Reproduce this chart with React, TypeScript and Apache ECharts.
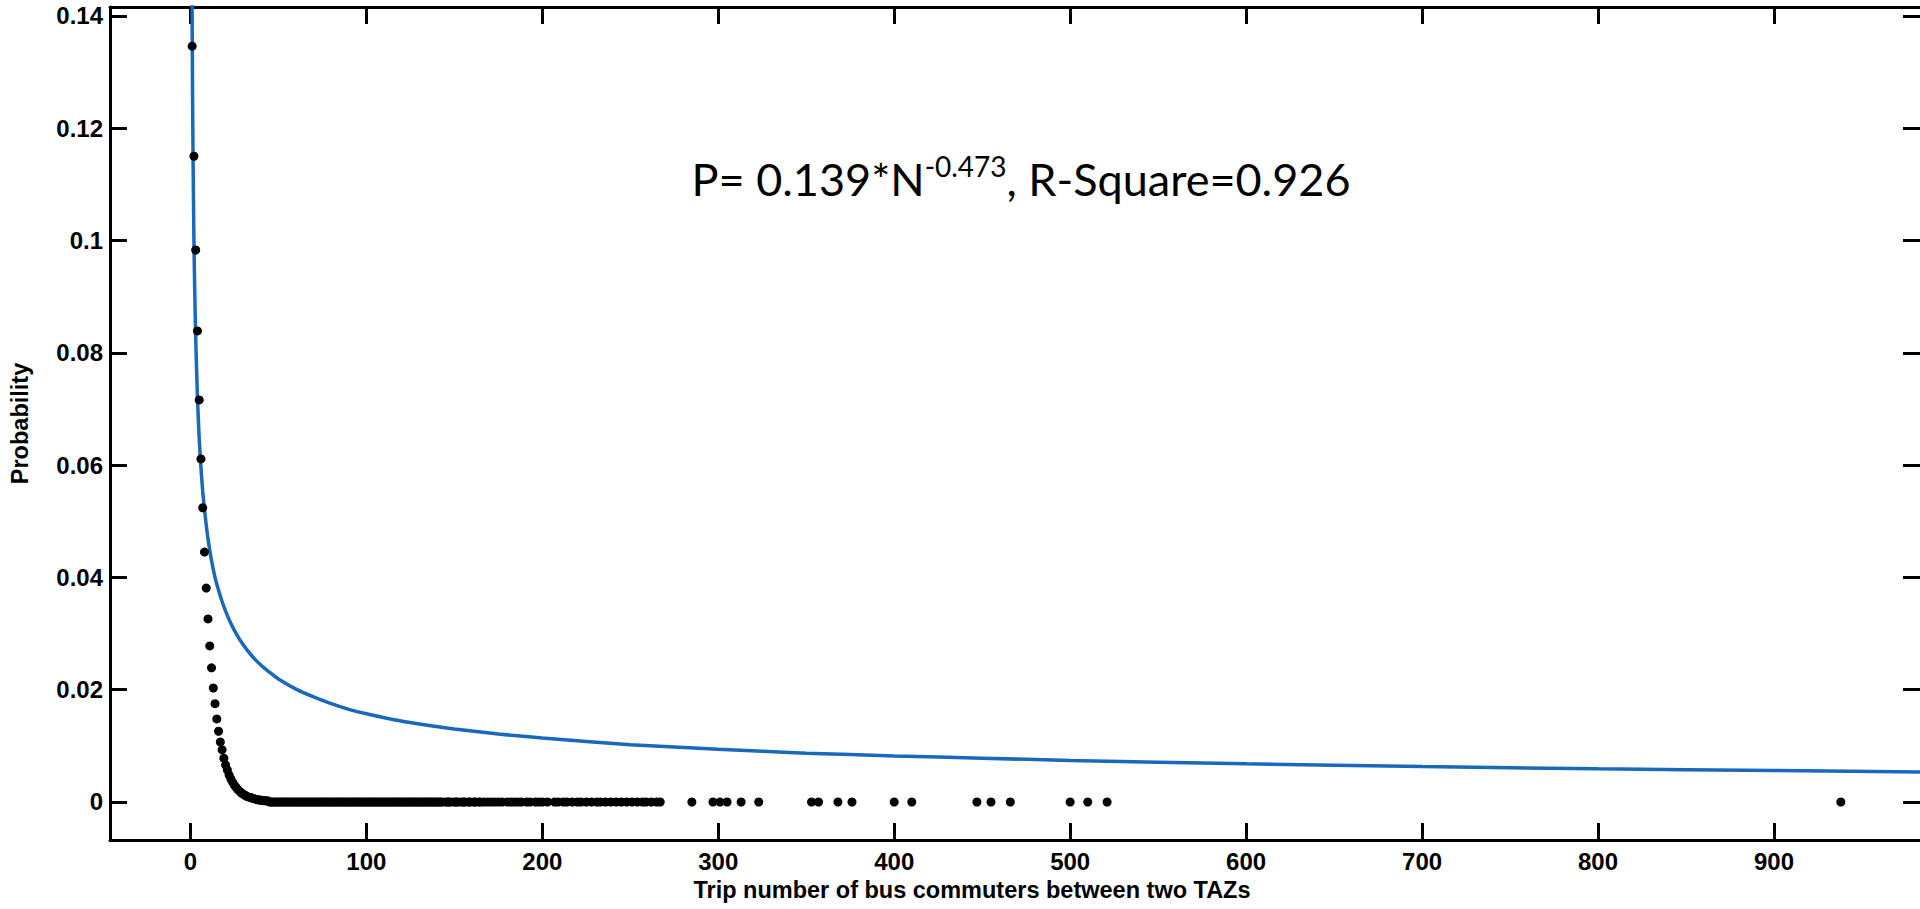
import React, { useEffect, useRef } from "react";
import * as echarts from "echarts";

// ---- Data ----
const xTicks = [0, 100, 200, 300, 400, 500, 600, 700, 800, 900];
const xTickLabels = ["0", "100", "200", "300", "400", "500", "600", "700", "800", "900"];
const yTicks = [0, 0.02, 0.04, 0.06, 0.08, 0.1, 0.12, 0.14];
const yTickLabels = ["0", "0.02", "0.04", "0.06", "0.08", "0.1", "0.12", "0.14"];

// observed probabilities for small trip numbers
const headTrips = [1, 2, 3, 4, 5, 6, 7, 8, 9, 10, 11, 12, 13, 14, 15, 16, 17, 18, 19, 20, 21, 22, 23, 24, 25, 26, 27, 28, 29, 30, 31, 32, 33, 34, 35, 36, 37, 38, 39, 40, 41, 42, 43, 44];
const headProb = [0.1346, 0.115, 0.0983, 0.0839, 0.0716, 0.0611, 0.0524, 0.0445, 0.0381, 0.0326, 0.0278, 0.0239, 0.0203, 0.0175, 0.0148, 0.0126, 0.0107, 0.0093, 0.0078, 0.0066, 0.0057, 0.0048, 0.0041, 0.0035, 0.003, 0.0026, 0.0022, 0.0019, 0.0016, 0.0014, 0.0012, 0.001, 0.0009, 0.0008, 0.0007, 0.0006, 0.0005, 0.0004, 0.0004, 0.0003, 0.0003, 0.0002, 0.0002, 0.0002];

// trip numbers whose observed probability is ~0
const zeroTrips = [
  45, 46, 47, 48, 49, 50, 51, 52, 53, 54, 55, 56, 57, 58, 59, 60, 61, 62, 63, 64, 65, 66, 67, 68, 69, 70,
  71, 72, 73, 74, 75, 76, 77, 78, 79, 80, 81, 82, 83, 84, 85, 86, 87, 88, 89, 90, 91, 92, 93, 94, 95, 96,
  97, 98, 99, 100, 101, 102, 103, 104, 105, 106, 107, 108, 109, 110, 111, 112, 113, 114, 115, 116, 117,
  118, 119, 120, 121, 122, 123, 124, 125, 126, 127, 128, 129, 130, 131, 132, 133, 134, 135, 136, 137, 138,
  139, 140, 141, 142, 143, 145, 146, 147, 148, 150, 151, 152, 154, 155, 156, 158, 159, 161, 162, 164, 165,
  167, 169, 171, 173, 175, 177, 180, 182, 184, 186, 188, 191, 193, 196, 198, 200, 203, 207, 209, 212, 214,
  217, 220, 222, 225, 228, 231, 233, 236, 239, 242, 245, 248, 251, 254, 257, 259, 262, 265, 267,
  285, 297, 301, 305, 313, 323, 353, 357, 368, 376, 400, 410, 447, 455, 466, 500, 510, 521, 938,
];

// fitted power-law curve
const fitTrips = [0.9, 1, 1.2, 1.5, 2, 2.5, 3, 4, 5, 6, 7, 8, 9, 10, 12, 14, 16, 18, 20, 23, 26, 30, 35, 40, 45, 50, 60, 70, 80, 90, 100, 115, 130, 150, 175, 200, 250, 300, 350, 400, 450, 500, 600, 700, 800, 900, 990];
const fitProb = [0.146, 0.139, 0.127, 0.115, 0.1, 0.0903, 0.0828, 0.072, 0.0647, 0.0595, 0.0553, 0.0521, 0.0493, 0.0469, 0.043, 0.04, 0.0377, 0.0357, 0.034, 0.0318, 0.03, 0.028, 0.026, 0.0244, 0.0231, 0.0219, 0.0201, 0.0187, 0.0175, 0.0165, 0.0157, 0.0147, 0.0139, 0.013, 0.0121, 0.0114, 0.0102, 0.0094, 0.0087, 0.0082, 0.0078, 0.0074, 0.0068, 0.0063, 0.0059, 0.0056, 0.0053];

const xName = "Trip number of bus commuters between two TAZs";
const yName = "Probability";
const eqMain = "P= 0.139*N";
const eqSup = "-0.473";
const eqTail = ", R-Square=0.926";

const X_MIN = -45.7;
const X_MAX = 983;
const Y_MIN = -0.00677;
const Y_MAX = 0.14158;

const AXIS_FONT = "'Liberation Sans', Arial, sans-serif";

export default function App() {
  const ref = useRef<HTMLDivElement>(null);

  useEffect(() => {
    if (!ref.current) return;
    const chart = echarts.init(ref.current, null, { renderer: "svg" });

    const fmtX = (v: number) => {
      const i = xTicks.findIndex((t) => Math.abs(t - v) < 1e-9);
      return i >= 0 ? xTickLabels[i] : "";
    };
    const fmtY = (v: number) => {
      const i = yTicks.findIndex((t) => Math.abs(t - v) < 1e-9);
      return i >= 0 ? yTickLabels[i] : "";
    };

    const lineStyle = { color: "#000", width: 3 };
    const tickStyle = { color: "#000", width: 3 };
    const labelStyle = {
      color: "#000",
      fontFamily: AXIS_FONT,
      fontWeight: "bold" as const,
      fontSize: 24,
    };

    const scatterData = headTrips
      .map((n, i) => [n, headProb[i]])
      .concat(zeroTrips.map((n) => [n, 0]));
    const fitData = fitTrips.map((n, i) => [n, fitProb[i]]);

    chart.setOption({
      animation: false,
      backgroundColor: "#fff",
      grid: { left: 98, top: 7, right: -1, bottom: 69, containLabel: false },
      xAxis: [
        {
          type: "value",
          position: "bottom",
          min: X_MIN,
          max: X_MAX,
          name: xName,
          nameLocation: "middle",
          nameGap: 31,
          nameTextStyle: { ...labelStyle, fontSize: 23.5, padding: [0, 86, 0, 0] },
          axisLine: { show: true, onZero: false, lineStyle },
          axisTick: { show: true, inside: true, length: 17, lineStyle: tickStyle, customValues: xTicks },
          axisLabel: { ...labelStyle, margin: 9, customValues: xTicks, formatter: fmtX },
          splitLine: { show: false },
        },
        {
          type: "value",
          position: "top",
          min: X_MIN,
          max: X_MAX,
          axisLine: { show: true, onZero: false, lineStyle },
          axisTick: { show: true, inside: true, length: 17, lineStyle: tickStyle, customValues: xTicks },
          axisLabel: { show: false, customValues: xTicks },
          splitLine: { show: false },
        },
      ],
      yAxis: [
        {
          type: "value",
          position: "left",
          min: Y_MIN,
          max: Y_MAX,
          name: yName,
          nameLocation: "middle",
          nameGap: 78,
          nameRotate: 90,
          nameTextStyle: { ...labelStyle, fontSize: 23.5 },
          axisLine: { show: true, onZero: false, lineStyle },
          axisTick: { show: true, inside: true, length: 17, lineStyle: tickStyle, customValues: yTicks },
          axisLabel: { ...labelStyle, margin: 7, customValues: yTicks, formatter: fmtY },
          splitLine: { show: false },
        },
        {
          type: "value",
          position: "right",
          min: Y_MIN,
          max: Y_MAX,
          axisLine: { show: false, onZero: false },
          axisTick: { show: true, inside: true, length: 17, lineStyle: tickStyle, customValues: yTicks },
          axisLabel: { show: false, customValues: yTicks },
          splitLine: { show: false },
        },
      ],
      series: [
        {
          type: "line",
          data: fitData,
          xAxisIndex: 0,
          yAxisIndex: 0,
          showSymbol: false,
          smooth: 0.2,
          clip: true,
          lineStyle: { color: "#1868bb", width: 3.5 },
          z: 2,
        },
        {
          type: "scatter",
          data: scatterData,
          xAxisIndex: 0,
          yAxisIndex: 0,
          symbol: "circle",
          symbolSize: 9,
          itemStyle: { color: "#000", opacity: 1 },
          clip: true,
          z: 3,
        },
      ],
      graphic: [
        {
          type: "text",
          x: 1021,
          y: 179,
          z: 10,
          style: {
            text: "{a|" + eqMain + "}{s|" + eqSup + "}{a|" + eqTail + "}",
            align: "center",
            verticalAlign: "middle",
            rich: {
              a: { fontFamily: "Lato, 'Open Sans', sans-serif", fontSize: 45, lineHeight: 54, color: "#000", verticalAlign: "middle" },
              s: { fontFamily: "Lato, 'Open Sans', sans-serif", fontSize: 28, lineHeight: 28, color: "#000", verticalAlign: "top" },
            },
          },
        },
      ],
    });

    return () => chart.dispose();
  }, []);

  return (
    <div
      ref={ref}
      style={{ position: "fixed", left: 0, top: 0, width: 1920, height: 909, background: "#fff" }}
    />
  );
}
